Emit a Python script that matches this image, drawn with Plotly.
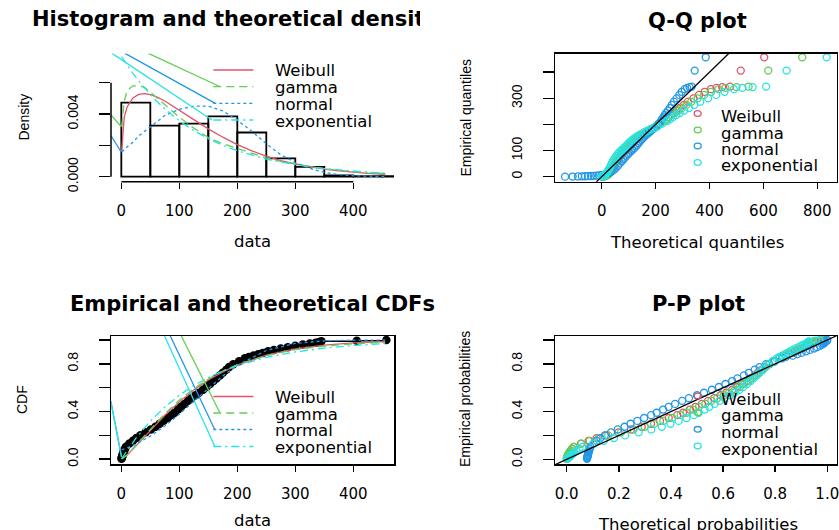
import plotly.graph_objects as go

W, H = 839, 530
def px(x): return x / W
def py(y): return 1 - y / H

DISTS = ["Weibull", "gamma", "normal", "exponential"]
COL = {"Weibull": "#DF536B", "gamma": "#61D04F", "normal": "#2297E6", "exponential": "#28E2E5"}
DASH = {"Weibull": "solid", "gamma": "8px,5px", "normal": "3px,3px", "exponential": "8px,4px,2px,4px"}

# ---------------- data ----------------
hist_edges = [0, 50, 100, 150, 200, 250, 300, 350, 400, 450, 500]
hist_density = [0.00472, 0.00326, 0.00339, 0.00385, 0.00282, 0.00117, 0.00063, 0.00008, 0.00004, 0.00004]

dens_x = [0.5, 5, 10, 20, 30, 40, 50, 60, 75, 100, 125, 150, 175, 200, 225, 250, 275, 300, 325, 350, 375, 400, 425, 455]
dens_weibull = [0.0016, 0.0038, 0.00445, 0.00503, 0.00525, 0.0053, 0.00524, 0.00511, 0.00483, 0.00426, 0.00364, 0.00305,
                0.00252, 0.00205, 0.00165, 0.00131, 0.00103, 0.00081, 0.00063, 0.00048, 0.00037, 0.00028, 0.00021, 0.00015]
dens_gamma = [0.0032, 0.0048, 0.0055, 0.0058, 0.0058, 0.0057, 0.0054, 0.0051, 0.0046, 0.0038, 0.0031, 0.0025,
              0.0021, 0.0018, 0.0015, 0.0012, 0.00098, 0.0008, 0.00064, 0.0005, 0.0004, 0.00032, 0.00025, 0.0002]
dens_normal = [0.0016, 0.0017, 0.0019, 0.0022, 0.0026, 0.0029, 0.0032, 0.0035, 0.0039, 0.0043, 0.0045, 0.0045,
               0.0042, 0.0036, 0.0029, 0.0021, 0.0014, 0.0009, 0.00053, 0.00028, 0.00013, 0.00006, 0.00003, 0.00001]
dens_exp = [0.00766, 0.0074, 0.0071, 0.00659, 0.00611, 0.00566, 0.00524, 0.00485, 0.00432, 0.00356, 0.00294, 0.00242,
            0.002, 0.00165, 0.00136, 0.00112, 0.00093, 0.00076, 0.00063, 0.00052, 0.00043, 0.00035, 0.00029, 0.00023]

data_sorted = [0.3, 0.6, 1.0, 1.4, 1.8, 2.2, 2.7, 3.3, 4.0, 5.0, 6.5, 8, 14, 20, 26, 33, 42, 51, 59, 66,
               73, 80, 87, 92, 98, 103, 109, 115, 121, 128, 134, 141, 147, 153, 159, 164, 170, 175, 181, 186,
               193, 203, 213, 220, 228, 236, 244, 253, 263, 275, 287, 300, 313, 325, 335, 340, 343, 345, 406, 457]
emp_prob = [0.004, 0.010, 0.016, 0.022, 0.028, 0.034, 0.042, 0.050, 0.060, 0.072, 0.088, 0.104, 0.131, 0.155, 0.178,
            0.200, 0.226, 0.250, 0.273, 0.298, 0.322, 0.346, 0.370, 0.390, 0.417, 0.440, 0.464, 0.490, 0.512, 0.537,
            0.558, 0.583, 0.606, 0.631, 0.656, 0.678, 0.703, 0.725, 0.751, 0.773, 0.797, 0.822, 0.846, 0.858, 0.869,
            0.881, 0.892, 0.905, 0.917, 0.929, 0.940, 0.952, 0.962, 0.970, 0.977, 0.982, 0.986, 0.989, 0.994, 1.000]

qq_weibull = [1.7, 3.5, 5.2, 6.7, 8.1, 9.5, 11.3, 13.0, 15.1, 17.6, 20.8, 23.9, 29.1, 33.7, 38.0, 42.2, 47.1, 51.7,
              56.1, 61.0, 65.7, 70.6, 75.5, 79.6, 85.4, 90.5, 95.9, 102.0, 107.3, 113.6, 119.0, 125.8, 132.3, 139.7,
              147.5, 154.7, 163.5, 171.7, 182.2, 191.9, 203.4, 216.6, 231.1, 239.1, 246.9, 256.2, 265.5, 277.7,
              290.4, 304.8, 320.3, 340.4, 361.2, 382.0, 405.0, 425.9, 447.0, 476, 516, 603]
qq_gamma = [1.9, 3.7, 5.3, 6.8, 8.1, 9.5, 11.1, 12.7, 14.7, 16.9, 19.9, 22.7, 27.7, 32.2, 36.4, 40.5, 45.3, 49.8,
            54.0, 58.8, 63.4, 68.1, 72.8, 77.0, 82.6, 87.6, 92.9, 98.8, 104.1, 110.3, 115.7, 122.5, 129.0, 136.3,
            144.3, 151.7, 160.7, 169.3, 180.2, 190.3, 202.3, 216.5, 232.0, 240.7, 249.4, 259.6, 269.9, 283.6,
            297.8, 314.3, 332.2, 355.8, 380.3, 405.4, 433.3, 459.2, 500, 545, 618, 744]
qq_normal = [-136, -108, -88, -74, -62, -51, -40, -30, -20, -10, 0, 12, 27, 37, 45, 52, 60, 67, 74, 80,
             86, 92, 98, 103, 109, 114, 120, 126, 131, 136, 141, 147, 152, 158, 164, 170, 176, 182, 189, 195,
             203, 211, 220, 224, 229, 234, 239, 246, 253, 260, 268, 278, 288, 297, 308, 317, 326, 334, 345, 386]
qq_exp = [0.5, 1.3, 2.1, 2.9, 3.7, 4.5, 5.6, 6.7, 8.0, 9.7, 12.0, 14.3, 18.3, 21.9, 25.5, 29.0, 33.3, 37.4, 41.4,
          46.0, 50.5, 55.2, 60.1, 64.3, 70.1, 75.4, 81.1, 87.5, 93.3, 100.1, 106.1, 113.7, 121.1, 129.6, 138.7,
          147.3, 157.8, 167.8, 180.7, 192.8, 207.3, 224.4, 243.2, 253.7, 264.2, 276.7, 289.3, 306.0, 323.6,
          343.9, 365.7, 394.8, 425.1, 455.9, 490.4, 522.3, 560, 610, 686, 835]

pp_weibull = [0.0005, 0.0011, 0.0021, 0.0032, 0.0043, 0.0056, 0.0072, 0.0092, 0.0117, 0.0155, 0.0213, 0.0275,
              0.0546, 0.0841, 0.1148, 0.1514, 0.199, 0.2465, 0.288, 0.3234, 0.358, 0.3915, 0.424, 0.4466, 0.4729,
              0.4941, 0.5188, 0.5425, 0.5654, 0.591, 0.612, 0.6354, 0.6545, 0.6729, 0.6904, 0.7044, 0.7205, 0.7333,
              0.748, 0.7598, 0.7755, 0.7963, 0.8154, 0.8279, 0.8412, 0.8536, 0.865, 0.877, 0.8892, 0.9023, 0.914,
              0.9252, 0.935, 0.943, 0.949, 0.9518, 0.9534, 0.9544, 0.9773, 0.9876]
pp_gamma = [0.0003, 0.0009, 0.0017, 0.0027, 0.0038, 0.005, 0.0066, 0.0085, 0.011, 0.0149, 0.0208, 0.0275, 0.0565,
            0.0886, 0.1218, 0.1594, 0.2081, 0.2566, 0.299, 0.3353, 0.371, 0.4045, 0.4372, 0.4599, 0.4865, 0.5074,
            0.5318, 0.5553, 0.5775, 0.6025, 0.6231, 0.6457, 0.664, 0.6816, 0.6983, 0.7114, 0.7269, 0.7386, 0.7527,
            0.7636, 0.7784, 0.7982, 0.8158, 0.8274, 0.8398, 0.8515, 0.8622, 0.8732, 0.8846, 0.8968, 0.9079, 0.9186,
            0.9281, 0.9356, 0.9414, 0.9439, 0.9455, 0.9465, 0.9701, 0.9816]
pp_normal = [0.078, 0.078, 0.079, 0.080, 0.080, 0.081, 0.082, 0.083, 0.084, 0.086, 0.089, 0.091, 0.103, 0.115, 0.129,
             0.146, 0.170, 0.196, 0.222, 0.245, 0.271, 0.297, 0.324, 0.345, 0.370, 0.391, 0.416, 0.443, 0.469, 0.500,
             0.527, 0.557, 0.584, 0.609, 0.635, 0.655, 0.680, 0.699, 0.722, 0.740, 0.765, 0.798, 0.827, 0.841, 0.867,
             0.885, 0.901, 0.918, 0.933, 0.949, 0.961, 0.972, 0.980, 0.986, 0.989, 0.991, 0.992, 0.992, 0.999, 1.000]
pp_exp = [0.0023, 0.0046, 0.0077, 0.0107, 0.0137, 0.0168, 0.0206, 0.025, 0.0303, 0.0377, 0.0488, 0.0597, 0.1021,
          0.1426, 0.1813, 0.2243, 0.2761, 0.3245, 0.3649, 0.3981, 0.4297, 0.4596, 0.4879, 0.5072, 0.5295, 0.5472,
          0.5676, 0.5871, 0.6058, 0.6264, 0.6433, 0.662, 0.6773, 0.6918, 0.7057, 0.7168, 0.7295, 0.7398, 0.7515,
          0.7609, 0.7734, 0.7901, 0.8057, 0.8159, 0.8269, 0.8374, 0.8469, 0.8572, 0.8677, 0.8794, 0.8901, 0.9005,
          0.9099, 0.9179, 0.924, 0.9269, 0.9285, 0.9297, 0.956, 0.9703]

cdf_x = [0.5, 10, 25, 50, 75, 100, 125, 150, 175, 200, 250, 300, 350, 400, 455]
cdf_weibull = [0.001, 0.036, 0.110, 0.241, 0.368, 0.481, 0.580, 0.664, 0.733, 0.790, 0.873, 0.925, 0.957, 0.976, 0.987]
cdf_gamma = [0.001, 0.034, 0.117, 0.252, 0.381, 0.495, 0.593, 0.673, 0.739, 0.793, 0.870, 0.919, 0.949, 0.968, 0.981]
cdf_normal = [0.078, 0.095, 0.126, 0.193, 0.278, 0.378, 0.487, 0.596, 0.699, 0.788, 0.912, 0.972, 0.993, 0.999, 1.000]
cdf_exp = [0.004, 0.074, 0.175, 0.319, 0.438, 0.537, 0.618, 0.685, 0.740, 0.785, 0.854, 0.900, 0.932, 0.954, 0.970]

# stray connector strokes visible in the picture (data units of each panel)
dens_stray = {
    "gamma": ([46.6, 170.6], [0.00787, 0.00574]),
    "normal": ([6.4, 162.0], [0.00787, 0.00468]),
    "exponential": ([-16.0, 156.4], [0.00787, 0.00362]),
}
dens_stray_left = {
    "gamma": ([-17.8, 0.0], [0.00394, 0.00319]),
    "normal": ([-17.8, 0.0], [0.00262, 0.00156]),
}
cdf_stray = {
    "gamma": ([102.8, 170.0], [1.04, 0.39]),
    "normal": ([83.8, 161.5], [1.04, 0.245]),
    "exponential": ([74.0, 161.5], [1.04, 0.105]),
}
cdf_stray_left = {
    "normal": ([-18.0, 0.3], [0.485, 0.02]),
    "exponential": ([-18.0, 0.3], [0.48, 0.02]),
}

density_curves = {"Weibull": dens_weibull, "gamma": dens_gamma, "normal": dens_normal, "exponential": dens_exp}
cdf_curves = {"Weibull": cdf_weibull, "gamma": cdf_gamma, "normal": cdf_normal, "exponential": cdf_exp}
qq_series = {"Weibull": qq_weibull, "gamma": qq_gamma, "normal": qq_normal, "exponential": qq_exp}
pp_series = {"Weibull": pp_weibull, "gamma": pp_gamma, "normal": pp_normal, "exponential": pp_exp}

# ---------------- axes ranges ----------------
R1X = [-17.8, 470.2]; R1Y = [-0.000319, 0.00786]
R2X = [-173.3, 872.0]; R2Y = [-19.1, 471.5]
R3X = [-17.8, 470.2]; R3Y = [-0.0403, 1.0336]
R4X = [-0.0449, 1.0361]; R4Y = [-0.0394, 1.0335]

HF = "DejaVu Sans"
VF = "Liberation Sans"
LW = 1.3

fig = go.Figure()

# Panel 1: histogram + densities
mids = [(a + b) / 2 for a, b in zip(hist_edges[:-1], hist_edges[1:])]
widths = [b - a for a, b in zip(hist_edges[:-1], hist_edges[1:])]
fig.add_trace(go.Bar(x=mids, y=hist_density, width=widths, xaxis="x", yaxis="y",
                     marker=dict(color="rgba(0,0,0,0)", line=dict(color="black", width=1.8)),
                     hoverinfo="skip"))
for d in DISTS:
    fig.add_trace(go.Scatter(x=dens_x, y=density_curves[d], mode="lines", xaxis="x", yaxis="y",
                             line=dict(color=COL[d], width=LW, dash=DASH[d]), hoverinfo="skip"))
for d, (xs, ys) in list(dens_stray.items()) + list(dens_stray_left.items()):
    fig.add_trace(go.Scatter(x=xs, y=ys, mode="lines", xaxis="x", yaxis="y",
                             line=dict(color=COL[d], width=LW), hoverinfo="skip"))

# Panel 2: Q-Q
for d in DISTS:
    fig.add_trace(go.Scatter(x=qq_series[d], y=data_sorted, mode="markers", xaxis="x2", yaxis="y2",
                             marker=dict(symbol="circle-open", size=7, color=COL[d], line=dict(width=1.3)),
                             hoverinfo="skip"))
fig.add_trace(go.Scatter(x=[R2X[0], R2X[1]], y=[R2X[0], R2X[1]], mode="lines", xaxis="x2", yaxis="y2",
                         line=dict(color="black", width=1.3), hoverinfo="skip"))

# Panel 3: CDFs
fig.add_trace(go.Scatter(x=data_sorted, y=emp_prob, mode="lines+markers", xaxis="x3", yaxis="y3",
                         line=dict(color="black", width=1.5, shape="hv"),
                         marker=dict(color="black", size=8.5), hoverinfo="skip"))
for d in DISTS:
    fig.add_trace(go.Scatter(x=cdf_x, y=cdf_curves[d], mode="lines", xaxis="x3", yaxis="y3",
                             line=dict(color=COL[d], width=LW, dash=DASH[d]), hoverinfo="skip"))
for d, (xs, ys) in list(cdf_stray.items()) + list(cdf_stray_left.items()):
    fig.add_trace(go.Scatter(x=xs, y=ys, mode="lines", xaxis="x3", yaxis="y3",
                             line=dict(color=COL[d], width=LW), hoverinfo="skip"))

# Panel 4: P-P
for d in DISTS:
    fig.add_trace(go.Scatter(x=pp_series[d], y=emp_prob, mode="markers", xaxis="x4", yaxis="y4",
                             marker=dict(symbol="circle-open", size=7, color=COL[d], line=dict(width=1.3)),
                             hoverinfo="skip"))
fig.add_trace(go.Scatter(x=[R4X[0], R4X[1]], y=[R4X[0], R4X[1]], mode="lines", xaxis="x4", yaxis="y4",
                         line=dict(color="black", width=1.3), hoverinfo="skip"))

# first title, clipped at the panel edge as in the picture
fig.add_trace(go.Scatter(x=[32], y=[21], mode="text", text=["<b>Histogram and theoretical densities</b>"],
                         textposition="middle right", textfont=dict(family=HF, size=21, color="black"),
                         xaxis="x5", yaxis="y5", cliponaxis=True, hoverinfo="skip"))

xc = dict(showgrid=False, zeroline=False, ticks="outside", ticklen=6, tickwidth=1.5, tickcolor="black",
          tickfont=dict(family=HF, size=15, color="black"), ticklabelstandoff=9, fixedrange=True,
          linecolor="black", linewidth=1.5, automargin=False)
yc = dict(showgrid=False, zeroline=False, ticks="outside", ticklen=11, tickwidth=1.5, tickcolor="black",
          tickangle=-90, tickfont=dict(family=VF, size=14, color="black"), ticklabelstandoff=15,
          fixedrange=True, linecolor="black", linewidth=1.5, automargin=False)

prob_ticks = [0, 0.2, 0.4, 0.6, 0.8, 1.0]
fig.update_layout(
    template="none",
    width=W, height=H, margin=dict(l=0, r=0, t=0, b=0, pad=0, autoexpand=False),
    paper_bgcolor="white", plot_bgcolor="white", showlegend=False,
    xaxis=dict(domain=[px(111), px(394)], range=R1X, tickvals=[0, 100, 200, 300, 400],
               showline=False, anchor="y", **xc),
    yaxis=dict(domain=[py(181.7), py(53.5)], range=R1Y, tickvals=[0, 0.002, 0.004, 0.006],
               ticktext=["0.000", "", "0.004", ""], showline=False, anchor="x", **yc),
    xaxis2=dict(domain=[px(555), px(836.7)], range=R2X, tickvals=[0, 200, 400, 600, 800],
                showline=True, mirror=True, anchor="y2", ticklabeloverflow="allow", **xc),
    yaxis2=dict(domain=[py(181.7), py(53.5)], range=R2Y, tickvals=[0, 100, 200, 300, 400],
                ticktext=["0", "100", "", "300", ""], showline=True, mirror=True, anchor="x2", **yc),
    xaxis3=dict(domain=[px(111), px(394)], range=R3X, tickvals=[0, 100, 200, 300, 400],
                showline=True, mirror=True, anchor="y3", **xc),
    yaxis3=dict(domain=[py(464), py(336)], range=R3Y, tickvals=prob_ticks,
                ticktext=["0.0", "", "0.4", "", "0.8", ""], showline=True, mirror=True, anchor="x3", **yc),
    xaxis4=dict(domain=[px(555), px(836.7)], range=R4X, tickvals=prob_ticks,
                ticktext=["0.0", "0.2", "0.4", "0.6", "0.8", "1.0"], showline=True, mirror=True,
                anchor="y4", ticklabeloverflow="allow", **xc),
    yaxis4=dict(domain=[py(464), py(336)], range=R4Y, tickvals=prob_ticks,
                ticktext=["0.0", "", "0.4", "", "0.8", ""], showline=True, mirror=True, anchor="x4", **yc),
    xaxis5=dict(domain=[0, px(420)], range=[0, 420], visible=False, anchor="y5", fixedrange=True,
                automargin=False),
    yaxis5=dict(domain=[py(45), 1], range=[45, 0], visible=False, anchor="x5", fixedrange=True,
                automargin=False),
)

shapes = [
    dict(type="line", xref="x", yref="y domain", x0=0, x1=400, y0=0, y1=0, line=dict(color="black", width=1.5)),
    dict(type="line", xref="x domain", yref="y", x0=0, x1=0, y0=0, y1=0.006, line=dict(color="black", width=1.5)),
]
ann = []

def text(x, y, s, size=16, family=HF, angle=0, anchor="center", bold=False):
    ann.append(dict(x=px(x), y=py(y), xref="paper", yref="paper", text=("<b>%s</b>" % s) if bold else s,
                    showarrow=False, xanchor=anchor, yanchor="middle", textangle=angle,
                    font=dict(family=family, size=size, color="black")))

# titles
text(697, 21, "Q-Q plot", size=21, bold=True)
text(252.5, 304, "Empirical and theoretical CDFs", size=21, bold=True)
text(698, 304, "P-P plot", size=21, bold=True)
# axis titles
text(252, 241, "data", size=16.5)
text(697, 242, "Theoretical quantiles", size=16.5)
text(252, 520, "data", size=16.5)
text(698, 524, "Theoretical probabilities", size=16.5)
text(23, 117.5, "Density", size=14, family=VF, angle=-90)
text(465, 117.5, "Empirical quantiles", size=14, family=VF, angle=-90)
text(22, 400, "CDF", size=14, family=VF, angle=-90)
text(465, 399, "Empirical probabilities", size=14, family=VF, angle=-90)

# legends with lines
for rows in ([70, 86.7, 103.3, 120], [396.5, 413, 429.5, 446.5]):
    for d, yy in zip(DISTS, rows):
        shapes.append(dict(type="line", xref="paper", yref="paper", x0=px(213.3), x1=px(253.3),
                           y0=py(yy), y1=py(yy), line=dict(color=COL[d], width=LW, dash=DASH[d])))
        text(273, yy + 1, d, size=16.5, anchor="left")
# legends with circles
for rows in ([113.5, 130, 146, 162.5], [396, 412.7, 429.3, 446]):
    for d, yy in zip(DISTS, rows):
        shapes.append(dict(type="circle", xref="paper", yref="paper", x0=px(694.2), x1=px(701.2),
                           y0=py(yy + 2.8), y1=py(yy - 2.8), line=dict(color=COL[d], width=1.3)))
        text(719, yy + 3, d, size=16.5, anchor="left")

fig.update_layout(shapes=shapes, annotations=ann)
fig.write_html("out.html", config={"displayModeBar": False, "staticPlot": True},
               post_script="document.body.style.margin='0';document.body.style.overflow='hidden';")
